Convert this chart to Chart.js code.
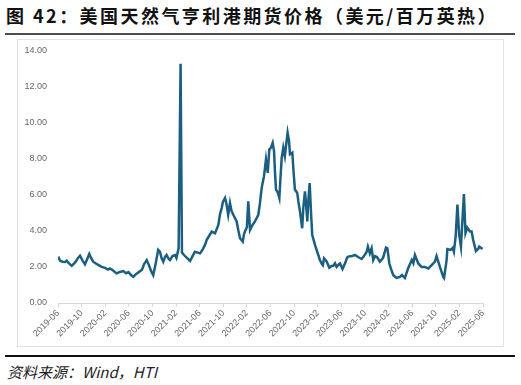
<!DOCTYPE html>
<html>
<head>
<meta charset="utf-8">
<script src="https://cdn.jsdelivr.net/npm/chart.js@4.4.1/dist/chart.umd.min.js"></script>
<style>
    body { margin: 0; width: 521px; height: 385px; background: #fff; position: relative; overflow: hidden; font-family: "Noto Sans CJK SC", sans-serif; }
    #titulo { position: absolute; left: 6px; top: 4px; font-size: 18px; font-weight: bold; letter-spacing: 2.45px; color: #111; white-space: nowrap; line-height: 22px; }
    .linha-topo { position: absolute; left: 5px; top: 33px; width: 510px; height: 2px; background: #4d4d4d; }
    .caixa { position: absolute; left: 17px; top: 39px; width: 487px; height: 308px; border: 1px solid #e3e3e3; box-sizing: border-box; }
    #grafico { position: absolute; left: 17px; top: 34px; }
    .linha-base { position: absolute; left: 5px; top: 355px; width: 510px; height: 2px; background: #111; }
    #fonte { position: absolute; left: 7px; top: 362px; font-size: 15px; font-style: italic; color: #222; white-space: nowrap; line-height: 20px; }
</style>
</head>
<body>
<div id="titulo">图 42：美国天然气亨利港期货价格（美元/百万英热）</div>
<div class="linha-topo"></div>
<div class="caixa"></div>
<canvas id="grafico" width="487" height="313"></canvas>
<div class="linha-base"></div>
<div id="fonte">资料来源：Wind，HTI</div>

<script>
const tickLabels = ['2019-06', '2019-10', '2020-02', '2020-06', '2020-10', '2021-02', '2021-06', '2021-10',
    '2022-02', '2022-06', '2022-10', '2023-02', '2023-06', '2023-10', '2024-02', '2024-06', '2024-10',
    '2025-02', '2025-06'];

const dates = [
    '2019-06-02', '2019-06-11', '2019-06-24', '2019-07-07', '2019-07-15', '2019-07-27', '2019-08-11', '2019-08-28',
    '2019-09-13', '2019-09-23', '2019-10-06', '2019-10-18', '2019-10-28', '2019-11-10', '2019-11-19', '2019-11-30',
    '2019-12-19', '2020-01-13', '2020-01-30', '2020-02-15', '2020-02-25', '2020-03-11', '2020-03-29', '2020-04-16',
    '2020-05-03', '2020-05-17', '2020-05-29', '2020-06-12', '2020-06-24', '2020-07-07', '2020-07-19', '2020-08-08',
    '2020-08-18', '2020-09-02', '2020-09-13', '2020-09-23', '2020-10-05', '2020-10-16', '2020-10-30', '2020-11-09',
    '2020-11-17', '2020-11-26', '2020-12-05', '2020-12-13', '2020-12-23', '2020-12-30', '2021-01-13', '2021-01-26',
    '2021-02-03', '2021-02-14', '2021-02-24', '2021-03-01', '2021-03-08', '2021-03-21', '2021-04-12', '2021-04-25',
    '2021-05-07', '2021-06-03', '2021-06-18', '2021-06-28', '2021-07-07', '2021-07-18', '2021-08-02', '2021-08-19',
    '2021-09-06', '2021-09-14', '2021-09-23', '2021-09-29', '2021-10-10', '2021-10-17', '2021-10-26', '2021-11-05',
    '2021-11-13', '2021-11-22', '2021-12-09', '2021-12-18', '2021-12-26', '2022-01-10', '2022-01-16', '2022-01-21',
    '2022-02-01', '2022-02-08', '2022-02-17', '2022-02-28', '2022-03-12', '2022-03-29', '2022-04-07', '2022-04-16',
    '2022-04-28', '2022-05-08', '2022-05-17', '2022-05-25', '2022-06-03', '2022-06-12', '2022-06-19', '2022-06-24',
    '2022-06-29', '2022-07-09', '2022-07-16', '2022-07-22', '2022-07-28', '2022-08-06', '2022-08-14', '2022-08-22',
    '2022-08-28', '2022-09-05', '2022-09-10', '2022-09-22', '2022-09-28', '2022-10-05', '2022-10-17', '2022-10-23',
    '2022-11-01', '2022-11-12', '2022-11-18', '2022-11-26', '2022-12-01', '2022-12-08', '2022-12-14', '2022-12-20',
    '2022-12-27', '2023-01-03', '2023-01-17', '2023-02-04', '2023-02-12', '2023-02-21', '2023-02-27', '2023-03-03',
    '2023-03-17', '2023-03-30', '2023-04-11', '2023-04-20', '2023-04-29', '2023-05-07', '2023-05-19', '2023-05-24',
    '2023-06-07', '2023-06-20', '2023-06-30', '2023-07-06', '2023-07-25', '2023-08-10', '2023-08-26', '2023-09-14',
    '2023-09-26', '2023-10-10', '2023-10-16', '2023-10-26', '2023-11-05', '2023-11-13', '2023-11-22', '2023-12-02',
    '2023-12-17', '2024-01-03', '2024-01-18', '2024-01-25', '2024-02-05', '2024-02-13', '2024-02-25', '2024-03-12',
    '2024-03-29', '2024-04-09', '2024-04-24', '2024-05-10', '2024-05-29', '2024-06-07', '2024-06-15', '2024-07-02',
    '2024-07-19', '2024-08-06', '2024-08-23', '2024-09-10', '2024-09-27', '2024-10-05', '2024-10-22', '2024-11-09',
    '2024-11-13', '2024-11-26', '2024-11-30', '2024-12-17', '2024-12-27', '2025-01-03', '2025-01-12', '2025-01-21',
    '2025-01-30', '2025-02-09', '2025-02-16', '2025-02-24', '2025-03-02', '2025-03-11', '2025-03-25', '2025-04-03',
    '2025-04-11', '2025-04-25', '2025-05-07', '2025-05-12', '2025-05-29'
];

const prices = [
    2.57, 2.35, 2.29, 2.27, 2.34, 2.20, 2.06, 2.25,
    2.50, 2.62, 2.35, 2.14, 2.40, 2.72, 2.50, 2.29,
    2.15, 2.00, 1.95, 1.85, 1.91, 1.80, 1.64, 1.72,
    1.77, 1.65, 1.72, 1.55, 1.45, 1.60, 1.69, 1.85,
    2.15, 2.38, 2.10, 1.80, 1.54, 2.10, 2.94, 2.84,
    2.50, 2.29, 2.55, 2.66, 2.45, 2.38, 2.60, 2.66,
    2.50, 3.03, 13.26, 2.80, 2.70, 2.55, 2.33, 2.60,
    2.84, 2.75, 3.00, 3.22, 3.50, 3.70, 3.96, 3.87,
    4.33, 4.90, 5.26, 5.60, 5.82, 5.50, 4.89, 5.54,
    5.10, 4.89, 4.52, 4.00, 3.59, 3.40, 3.80, 3.96,
    4.20, 5.63, 4.05, 4.30, 4.52, 4.89, 5.50, 6.37,
    7.03, 7.96, 7.21, 8.52, 8.60, 8.88, 8.42, 7.20,
    6.29, 6.10, 5.82, 7.00, 8.05, 8.61, 8.14, 8.90,
    9.44, 9.00, 8.24, 8.33, 7.30, 6.29, 6.10, 5.60,
    5.07, 4.14, 5.30, 6.19, 5.60, 4.52, 5.80, 6.65,
    5.00, 3.78, 3.22, 2.66, 2.38, 2.19, 2.10, 2.47,
    2.29, 1.95, 2.05, 2.06, 2.20, 2.00, 2.15, 2.19,
    1.88, 2.20, 2.51, 2.57, 2.60, 2.66, 2.55, 2.44,
    2.60, 2.84, 3.12, 2.75, 3.03, 2.38, 2.60, 2.55,
    2.29, 2.50, 3.07, 3.03, 2.19, 1.90, 1.54, 1.39,
    1.45, 1.55, 1.39, 1.91, 2.38, 2.20, 2.66, 2.19,
    2.00, 2.00, 1.91, 2.10, 2.29, 2.60, 2.00, 1.45,
    1.39, 2.38, 2.99, 2.94, 3.05, 2.84, 3.68, 5.45,
    3.78, 3.12, 4.50, 6.04, 3.87, 4.18, 3.96, 3.96,
    3.50, 2.88, 3.00, 3.12, 3.00
];

// meses contados a partir de 2019-06
function mesesDesdeInicio(d) {
    const [ano, mes, dia] = d.split('-').map(Number);
    return (ano - 2019) * 12 + (mes - 6) + (dia - 1) / 30;
}

const pontos = dates.map((d, i) => ({ x: mesesDesdeInicio(d), y: prices[i] }));
const corTexto = '#666';
const fonteEixo = { family: 'Liberation Sans, Arial, sans-serif', size: 9 };

const ctx = document.getElementById('grafico').getContext('2d');
new Chart(ctx, {
    type: 'line',
    data: {
        datasets: [{
            data: pontos,
            borderColor: '#1a5f82',
            borderWidth: 2.5,
            pointRadius: 0,
            tension: 0,
            fill: false
        }]
    },
    options: {
        responsive: false,
        animation: false,
        layout: { padding: { top: 6, right: 21, left: 0, bottom: 0 } },
        plugins: { legend: { display: false }, tooltip: { enabled: false } },
        scales: {
            x: {
                type: 'linear',
                min: 0,
                max: (tickLabels.length - 1) * 4,
                afterBuildTicks: s => { s.ticks = tickLabels.map((_, i) => ({ value: i * 4 })); },
                afterFit: s => { s.height = 44; },
                border: { display: true, color: '#d9d9d9', width: 1 },
                grid: { drawOnChartArea: false, drawTicks: true, tickLength: 4, color: '#d9d9d9' },
                ticks: {
                    autoSkip: false,
                    maxRotation: 45,
                    minRotation: 45,
                    padding: 1,
                    color: corTexto,
                    font: fonteEixo,
                    callback: v => tickLabels[Math.round(v / 4)]
                }
            },
            y: {
                min: 0,
                max: 14,
                afterFit: s => { s.width = 41; },
                border: { display: false },
                grid: { display: false, drawTicks: false },
                ticks: {
                    stepSize: 2,
                    padding: 11,
                    color: corTexto,
                    font: fonteEixo,
                    callback: v => v.toFixed(2)
                }
            }
        }
    }
});
</script>
</body>
</html>
